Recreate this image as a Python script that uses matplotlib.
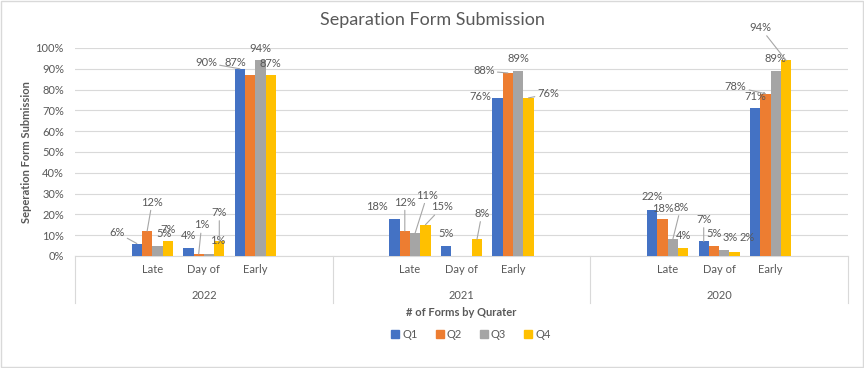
import numpy as np
import matplotlib
matplotlib.use('Agg')
import matplotlib.pyplot as plt
from matplotlib.patches import Rectangle, Patch

plt.rcParams['font.family'] = ['Lato', 'DejaVu Sans']

years = ['2022', '2021', '2020']
periods = ['Late', 'Day of', 'Early']
quarters = ['Q1', 'Q2', 'Q3', 'Q4']
# one value per (year, period), year-major
q1 = [6, 4, 90, 18, 5, 76, 22, 7, 71]
q2 = [12, 1, 87, 12, np.nan, 88, 18, 5, 78]
q3 = [5, 1, 94, 11, np.nan, 89, 8, 3, 89]
q4 = [7, 7, 87, 15, 8, 76, 4, 2, 94]
series = [q1, q2, q3, q4]
colors = ['#4472C4', '#ED7D31', '#A5A5A5', '#FFC000']
grey = '#595959'

# labels that were dragged around in excel: (quarter, point) -> dx, dy in px, leader line
moved = {
    (0, 0): (-20, 11, True), (1, 0): (5, 29, True), (2, 0): (7, 12, False),
    (1, 1): (3, 29, True), (2, 1): (9, 13, False), (3, 1): (0, 29, True),
    (0, 2): (-34, 6, True), (1, 2): (-15, 13, False),
    (0, 3): (-18, 12, False), (1, 3): (0, 29, True), (2, 3): (12, 38, True), (3, 3): (17, 18, True),
    (3, 4): (5, 26, True),
    (0, 5): (-17, 1, False), (1, 5): (-24, 2, True), (3, 5): (20, 4, True),
    (0, 6): (0, 14, False), (1, 6): (0, 10, False), (2, 6): (8, 32, True),
    (0, 7): (0, 22, True), (2, 7): (6, 12, False), (3, 7): (13, 14, False),
    (1, 8): (-30, 7, True), (3, 8): (-26, 33, True),
}

fig = plt.figure(figsize=(8.64, 3.68), dpi=100)
ax = fig.add_axes([75/864, 1-256/368, 773/864, 208/368])

# 5 slots per year, first and last left empty like the excel sheet
centers = np.array([g*5 + p + 1.5 for g in range(len(years)) for p in range(len(periods))])
w = 0.2
for i, vals in enumerate(series):
    xs = centers + (i - 1.5)*w
    ax.bar(xs, vals, width=w, color=colors[i], zorder=3)
    for j, v in enumerate(vals):
        if np.isnan(v):
            continue
        dx, dy, lead = moved.get((i, j), (0, 12, False))
        ap = dict(arrowstyle='-', color='#a6a6a6', lw=0.8, shrinkA=0, shrinkB=0) if lead else None
        ax.annotate(f'{int(v)}%', (xs[j], v), xytext=(dx, dy), textcoords='offset pixels',
                    ha='center', va='center', fontsize=8, color=grey, arrowprops=ap, zorder=4)

ax.set_xlim(0, 15)
ax.set_ylim(0, 100)
ax.set_yticks(range(0, 101, 10))
ax.set_yticklabels([f'{t}%' for t in range(0, 101, 10)], fontsize=8, color=grey)
ax.tick_params(axis='y', length=0, pad=8)
ax.set_xticks([])
ax.grid(axis='y', color='#d9d9d9', lw=0.8, zorder=0)
for s in ['left', 'right', 'top']:
    ax.spines[s].set_visible(False)
ax.spines['bottom'].set_color('#d9d9d9')

# multi level category axis
tr = ax.get_xaxis_transform()
for xb in [0, 5, 10, 15]:
    ax.plot([xb, xb], [0, -0.226], transform=tr, color='#d9d9d9', lw=0.8, clip_on=False)
for j, c in enumerate(centers):
    ax.text(c, -0.067, periods[j % 3], transform=tr, ha='center', va='center', fontsize=8, color=grey)
for g, yr in enumerate(years):
    ax.text(g*5 + 2.5, -0.19, yr, transform=tr, ha='center', va='center', fontsize=8, color=grey)

fig.text(0.5, 1-20/368, 'Separation Form Submission', ha='center', va='center', fontsize=13, color=grey)
fig.text(27/864, 1-152/368, 'Seperation Form Submission', rotation=90, ha='center', va='center',
         fontsize=8, fontweight='bold', color=grey)
fig.text(461/864, 1-312/368, '# of Forms by Qurater', ha='center', va='center',
         fontsize=8, fontweight='bold', color=grey)

handles = [Patch(color=c) for c in colors]
fig.legend(handles, quarters, loc='center', bbox_to_anchor=(471/864, 1-334/368), ncol=4, frameon=False,
           handlelength=0.7, handleheight=0.7, handletextpad=0.3, columnspacing=1.6,
           fontsize=8, labelcolor=grey)

fig.patches.append(Rectangle((0.001, 0.002), 0.998, 0.996, transform=fig.transFigure,
                             fill=False, ec='#d9d9d9', lw=1))

fig.savefig('out.png', dpi=100, facecolor='white')
